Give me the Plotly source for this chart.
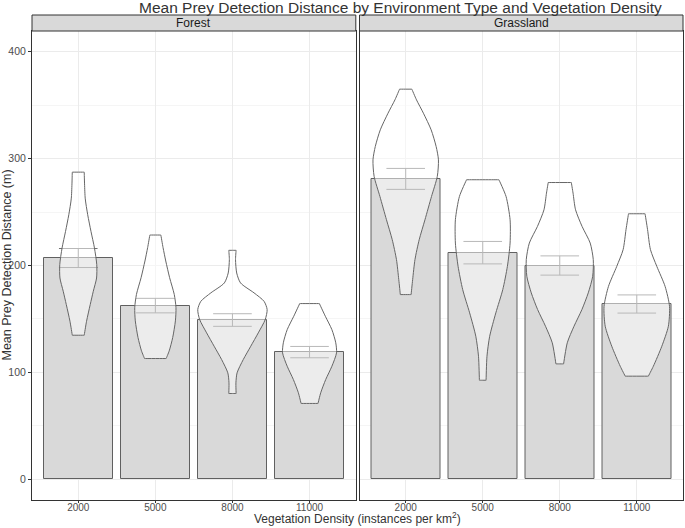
import plotly.graph_objects as go

categories = ["2000", "5000", "8000", "11000"]
panels = ["Forest", "Grassland"]

# bar heights (mean) and standard error
forest_mean = [207, 162.5, 149, 119]
forest_se = [8.9, 6.8, 5.9, 5.3]
grass_mean = [281, 212, 200, 164]
grass_se = [9.8, 10.5, 9.0, 8.5]

# violin outlines: distance levels (m) and full width (in category units)
forest_2000_y = [134.8, 147.8, 163.4, 175.9, 188.3, 200.8, 216.4, 231.9, 247.5, 263, 287.3]
forest_2000_w = [0.155, 0.215, 0.31, 0.39, 0.475, 0.48, 0.42, 0.33, 0.245, 0.18, 0.155]
forest_5000_y = [113, 120.2, 132.6, 148.2, 160.6, 173, 188.6, 204.2, 216.7, 228.5]
forest_5000_w = [0.28, 0.36, 0.45, 0.52, 0.535, 0.49, 0.37, 0.27, 0.2, 0.143]
forest_8000_y = [80.3, 90.3, 99.6, 112, 124.5, 137, 149.4, 158.8, 166.5, 174.4, 183.7, 193, 205.5, 214.2]
forest_8000_w = [0.095, 0.09, 0.12, 0.28, 0.475, 0.67, 0.85, 0.9, 0.82, 0.56, 0.21, 0.11, 0.08, 0.095]
forest_11000_y = [71, 81, 93.4, 105.8, 118.3, 127.7, 140, 152.5, 164.4]
forest_11000_w = [0.22, 0.29, 0.42, 0.58, 0.7, 0.68, 0.58, 0.41, 0.255]
grass_2000_y = [172.8, 186.8, 205.5, 224.1, 242.8, 264.6, 283.3, 298.8, 311.3, 326.9, 342.4, 354.9, 364.9]
grass_2000_w = [0.14, 0.18, 0.24, 0.35, 0.5, 0.67, 0.82, 0.85, 0.79, 0.66, 0.46, 0.28, 0.16]
grass_5000_y = [92.7, 115.1, 133.8, 155.7, 177.4, 199.2, 221, 242.8, 264.6, 280.2]
grass_5000_w = [0.087, 0.11, 0.18, 0.34, 0.52, 0.64, 0.71, 0.71, 0.605, 0.42]
grass_8000_y = [108, 127.7, 143.2, 158.8, 174.4, 189.9, 205.5, 221, 236.5, 252.1, 267.7, 277.6]
grass_8000_w = [0.1, 0.195, 0.37, 0.575, 0.74, 0.855, 0.87, 0.79, 0.58, 0.41, 0.345, 0.3]
grass_11000_y = [96.5, 105.8, 124.5, 143.2, 161.8, 180.5, 199.2, 214.8, 233.5, 248.4]
grass_11000_w = [0.3, 0.43, 0.65, 0.82, 0.85, 0.735, 0.52, 0.355, 0.28, 0.215]

forest_violins = [(forest_2000_y, forest_2000_w), (forest_5000_y, forest_5000_w),
                  (forest_8000_y, forest_8000_w), (forest_11000_y, forest_11000_w)]
grass_violins = [(grass_2000_y, grass_2000_w), (grass_5000_y, grass_5000_w),
                 (grass_8000_y, grass_8000_w), (grass_11000_y, grass_11000_w)]

FONT = "Liberation Sans, Arial, sans-serif"
W, H = 685, 528
ml, mr, mt, mb = 32, 2, 31, 28
pw = W - ml - mr
ph = H - mt - mb
left_dom = [0, 323.8 / pw]
right_dom = [(359.5 - ml) / pw, 1]

fig = go.Figure()
pos = list(range(len(categories)))


def outline(i, vy, vw):
    # left side bottom->top, right side top->bottom; ends doubled so the trimmed tips stay flat
    left_x = [i - w / 2 for w in vw]
    right_x = [i + w / 2 for w in reversed(vw)]
    xs = [left_x[0]] + left_x + [left_x[-1]] + [right_x[0]] + right_x + [right_x[-1]] + [left_x[0]]
    ys = [vy[0]] + list(vy) + [vy[-1]] + [vy[-1]] + list(reversed(vy)) + [vy[0]] + [vy[0]]
    return xs, ys


for k, (means, se, violins) in enumerate([(forest_mean, forest_se, forest_violins),
                                          (grass_mean, grass_se, grass_violins)]):
    xa = "x" if k == 0 else "x2"
    ya = "y" if k == 0 else "y2"
    fig.add_trace(go.Bar(
        x=pos, y=means, width=0.9, xaxis=xa, yaxis=ya,
        marker=dict(color="#D9D9D9", line=dict(color="#606060", width=1)),
        error_y=dict(type="data", array=se, visible=True, color="#707070",
                     thickness=1, width=19.3),
        showlegend=False, hoverinfo="skip"
    ))
    for i, (vy, vw) in enumerate(violins):
        xs, ys = outline(i, vy, vw)
        fig.add_trace(go.Scatter(
            x=xs, y=ys, xaxis=xa, yaxis=ya, mode="lines", fill="toself",
            fillcolor="rgba(255,255,255,0.5)",
            line=dict(color="#666666", width=1, shape="spline", smoothing=0.7),
            showlegend=False, hoverinfo="skip"
        ))

xcommon = dict(range=[-0.6, 3.6], tickvals=pos, ticktext=categories,
               showgrid=True, gridcolor="#EBEBEB", gridwidth=1,
               showline=True, mirror=True, linecolor="#333333", linewidth=1,
               ticks="outside", ticklen=2, tickcolor="#333333", ticklabelstandoff=-4,
               tickfont=dict(family=FONT, size=10, color="#4D4D4D"),
               zeroline=False, fixedrange=True)
ycommon = dict(range=[-19.3, 419.3], dtick=100, showgrid=True, gridcolor="#EBEBEB",
               gridwidth=1, minor=dict(dtick=50, showgrid=True, gridcolor="#F5F5F5", gridwidth=1),
               showline=True, mirror=True, linecolor="#333333", linewidth=1,
               zeroline=False, fixedrange=True)

fig.update_layout(
    width=W, height=H,
    margin=dict(l=ml, r=mr, t=mt, b=mb),
    paper_bgcolor="white", plot_bgcolor="white",
    font=dict(family=FONT, color="#333333"),
    bargap=0,
    xaxis=dict(domain=left_dom, anchor="y", **xcommon),
    xaxis2=dict(domain=right_dom, anchor="y2", **xcommon),
    yaxis=dict(anchor="x", ticks="outside", ticklen=3, tickcolor="#333333",
               tickfont=dict(family=FONT, size=10.5, color="#4D4D4D"), **ycommon),
    yaxis2=dict(anchor="x2", matches="y", showticklabels=False, **ycommon),
)

# facet strips
strip_h = 16 / ph
for dom, name in zip([left_dom, right_dom], panels):
    fig.add_shape(type="rect", xref="paper", yref="paper",
                  x0=dom[0], x1=dom[1], y0=1, y1=1 + strip_h,
                  fillcolor="#D9D9D9", line=dict(color="#333333", width=1), layer="above")
    fig.add_annotation(x=(dom[0] + dom[1]) / 2, y=1 + strip_h / 2, xref="paper", yref="paper",
                       text=name, showarrow=False, xanchor="center", yanchor="middle",
                       font=dict(family=FONT, size=12, color="#1A1A1A"))

# titles
fig.add_annotation(x=(400 - ml) / pw, y=1 + (mt - 7) / ph, xref="paper", yref="paper",
                   text="Mean Prey Detection Distance by Environment Type and Vegetation Density",
                   showarrow=False, xanchor="center", yanchor="middle",
                   font=dict(family=FONT, size=15.5, color="#333333"))
fig.add_annotation(x=0.5, y=-(518 - (H - mb)) / ph, xref="paper", yref="paper",
                   text="Vegetation Density (instances per km<sup>2</sup>)",
                   showarrow=False, xanchor="center", yanchor="middle",
                   font=dict(family=FONT, size=12, color="#333333"))
fig.add_annotation(x=-(ml - 6) / pw, y=0.5, xref="paper", yref="paper",
                   text="Mean Prey Detection Distance (m)", textangle=-90,
                   showarrow=False, xanchor="center", yanchor="middle",
                   font=dict(family=FONT, size=12.5, color="#333333"))

fig.write_html("out.html", config={"displayModeBar": False},
               post_script="document.body.style.margin='0';document.body.style.overflow='hidden';")
